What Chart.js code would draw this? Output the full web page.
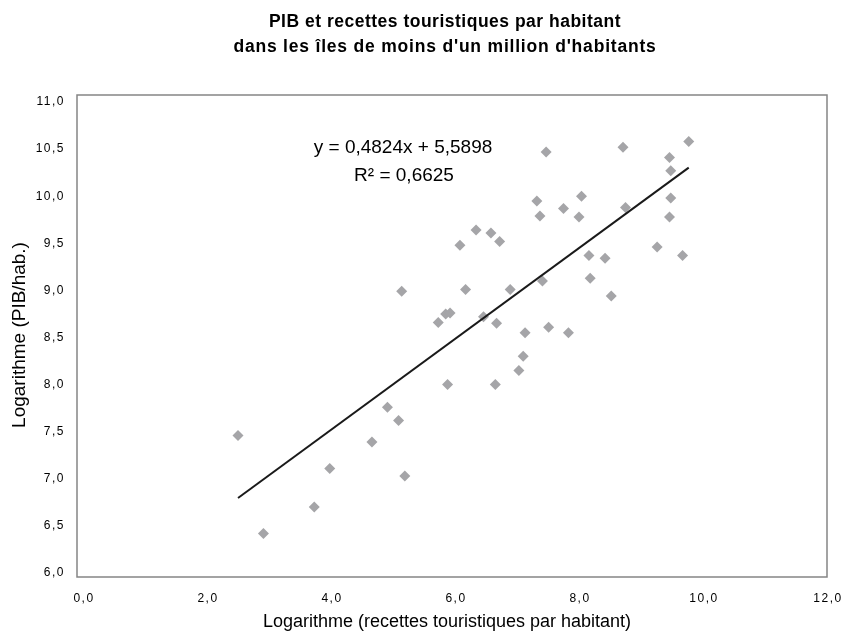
<!DOCTYPE html>
<html><head><meta charset="utf-8">
<script src="https://cdn.jsdelivr.net/npm/chart.js@4/dist/chart.umd.min.js"></script>
<style>html,body{margin:0;padding:0;background:#fff;}#wrap{width:850px;height:637px;position:relative;}</style>
</head><body><div id="wrap"><canvas id="c" width="850" height="637"></canvas></div>
<script>
// Logarithme (recettes touristiques par habitant)
const recettesLog = [2.50,2.91,3.73,3.98,4.66,4.91,5.09,5.19,5.14,5.73,5.85,5.92,5.88,6.08,6.17,6.34,6.46,6.58,6.67,6.65,6.72,6.89,7.03,7.10,7.13,7.32,7.37,7.41,7.47,7.51,7.75,7.83,8.00,8.04,8.16,8.18,8.42,8.52,8.71,8.75,9.26,9.46,9.48,9.48,9.46,9.67,9.77];
// Logarithme (PIB/hab.)
const pibLog     = [7.46,6.42,6.70,7.11,7.39,7.76,7.62,7.03,8.99,8.66,8.75,8.76,8.00,9.48,9.01,9.64,8.72,9.61,8.65,8.00,9.52,9.01,8.15,8.30,8.55,9.95,9.79,9.10,10.47,8.61,9.87,8.55,9.78,10.00,9.37,9.13,9.34,8.94,10.52,9.88,9.46,10.41,10.27,9.98,9.78,9.37,10.58];
const trendSlope = 0.4824;
const trendIntercept = 5.5898;
const rSquared = 0.6625;
const xTicks = [0,2,4,6,8,10,12];
const yTicks = [6,6.5,7,7.5,8,8.5,9,9.5,10,10.5,11];
const titleLines = ["PIB et recettes touristiques par habitant","dans les îles de moins d'un million d'habitants"];
const xTitle = "Logarithme (recettes touristiques par habitant)";
const yTitle = "Logarithme (PIB/hab.)";

const fr = v => v.toFixed(1).replace('.', ',');
const points = recettesLog.map((x,i)=>({x, y: pibLog[i]}));
const xMin = Math.min(...recettesLog), xMax = Math.max(...recettesLog);
const trend = [xMin, xMax].map(x=>({x, y: trendSlope*x + trendIntercept}));

const FONT = "'Liberation Sans', Arial, sans-serif";

const decor = {
  id:'decor',
  beforeDraw(chart){
    const ctx = chart.ctx;
    ctx.save(); ctx.fillStyle='#fff'; ctx.fillRect(0,0,chart.width,chart.height); ctx.restore();
    ctx.letterSpacing = '1.5px';
  },
  beforeDatasetsDraw(chart){
    const {ctx, chartArea:a} = chart;
    ctx.save();
    ctx.strokeStyle = '#858585'; ctx.lineWidth = 1.5;
    ctx.strokeRect(a.left, a.top, a.right-a.left, a.bottom-a.top);
    ctx.restore();
  },
  afterDraw(chart){
    const {ctx, chartArea:a} = chart;
    ctx.save();
    ctx.fillStyle = '#000';
    ctx.textAlign = 'center';
    ctx.textBaseline = 'alphabetic';
    const cx = (a.left + a.right)/2 - 7;
    ctx.letterSpacing = '0.5px';
    ctx.font = "bold 17.5px " + FONT;
    ctx.fillText(titleLines[0], cx, 27);
    ctx.letterSpacing = '0.8px';
    ctx.fillText(titleLines[1], cx, 52);
    ctx.letterSpacing = '0px';
    ctx.font = "18px " + FONT;
    ctx.fillText(xTitle, cx + 2, 627);
    ctx.save();
    ctx.translate(25, 335);
    ctx.rotate(-Math.PI/2);
    ctx.font = "19px " + FONT;
    ctx.fillText(yTitle, 0, 0);
    ctx.restore();
    ctx.font = "19px " + FONT;
    ctx.fillText("y = " + trendSlope.toFixed(4).replace('.', ',') + "x + " + trendIntercept.toFixed(4).replace('.', ','), a.left + 326, a.top + 58);
    ctx.fillText("R² = " + rSquared.toFixed(4).replace('.', ','), a.left + 327, a.top + 86);
    ctx.restore();
    ctx.letterSpacing = '0px';
  }
};

new Chart(document.getElementById('c'), {
  data: {
    datasets: [
      { type:'scatter', label:'Tendance', data: trend, showLine:true, borderColor:'#1a1a1a', borderWidth:2, pointRadius:0, fill:false, order:0 },
      { type:'scatter', label:'Îles', data: points, pointStyle:'rectRot', pointRadius:5.5, pointHoverRadius:5.5, backgroundColor:'#a5a5a8', borderColor:'#a5a5a8', borderWidth:0, order:1 }
    ]
  },
  options: {
    responsive:false, animation:false, devicePixelRatio:1,
    layout:{ padding:{ top:95, right:23, left:0, bottom:0 } },
    plugins:{ legend:{display:false}, tooltip:{enabled:false}, title:{display:false} },
    scales:{
      x:{
        type:'linear', min:-0.097, max:12,
        afterBuildTicks: s => { s.ticks = xTicks.map(v=>({value:v})); },
        afterFit: s => { s.height = 60; s.paddingLeft = 0; s.paddingRight = 0; },
        grid:{ display:false, drawTicks:false },
        border:{ display:false },
        ticks:{ padding:14, labelOffset:1, maxRotation:0, minRotation:0, color:'#000', font:{ family:FONT, size:12 }, callback: v => fr(v) }
      },
      y:{
        type:'linear', min:5.9575, max:11.0743,
        afterBuildTicks: s => { s.ticks = yTicks.map(v=>({value:v})); },
        afterFit: s => { s.width = 77; s.paddingTop = 0; s.paddingBottom = 0; },
        grid:{ display:false, drawTicks:false },
        border:{ display:false },
        ticks:{ padding:12, labelOffset:0, color:'#000', font:{ family:FONT, size:12 }, callback: v => fr(v) }
      }
    }
  },
  plugins:[decor]
});
</script></body></html>
